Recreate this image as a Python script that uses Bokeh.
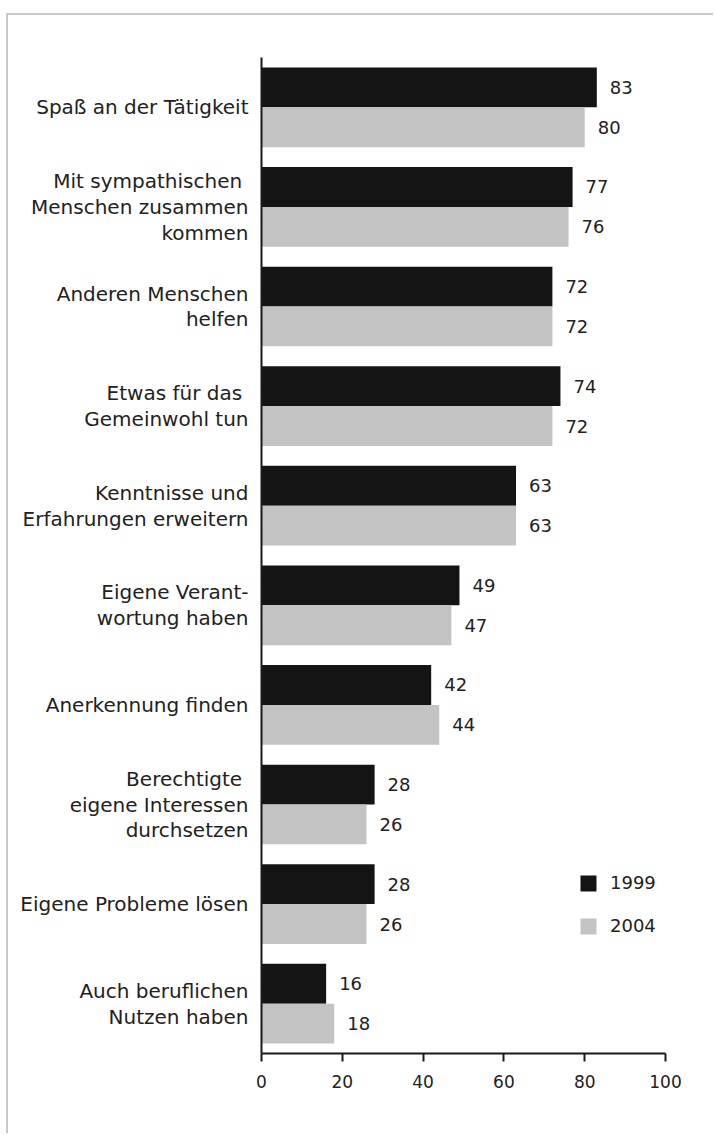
from bokeh.plotting import figure
from bokeh.models import FactorRange, Range1d, Legend, LegendItem, FixedTicker, ColumnDataSource
from bokeh.transform import dodge
from bokeh.core.properties import value
from bokeh.embed import file_html
from bokeh.resources import INLINE

categories = [
    "Spaß an der Tätigkeit",
    "Mit sympathischen \nMenschen zusammen\nkommen",
    "Anderen Menschen\nhelfen",
    "Etwas für das \nGemeinwohl tun",
    "Kenntnisse und\nErfahrungen erweitern",
    "Eigene Verant-\nwortung haben",
    "Anerkennung finden",
    "Berechtigte \neigene Interessen\ndurchsetzen",
    "Eigene Probleme lösen",
    "Auch beruflichen\nNutzen haben",
]
values_1999 = [83, 77, 72, 74, 63, 49, 42, 28, 28, 16]
values_2004 = [80, 76, 72, 72, 63, 47, 44, 26, 26, 18]
x_ticks = [0, 20, 40, 60, 80, 100]
series_names = ["1999", "2004"]

FONT = "DejaVu Sans"
TXT = "#222222"
BLACK = "#141414"
GRAY = "#c3c3c3"

src = ColumnDataSource(dict(
    cat=categories,
    v1999=values_1999,
    v2004=values_2004,
    l1999=[str(v) for v in values_1999],
    l2004=[str(v) for v in values_2004],
))

p = figure(
    width=707, height=1120,
    y_range=FactorRange(*list(reversed(categories))),
    x_range=Range1d(0, 100),
    output_backend="svg", toolbar_location=None,
    min_border_left=253, min_border_right=50,
    min_border_top=42, min_border_bottom=82,
    styles={"margin-left": "6px", "margin-top": "13px",
            "border-left": "2px solid #c8c8c8", "border-top": "2px solid #c8c8c8"},
)
p.outline_line_color = None
p.grid.visible = False
p.background_fill_color = "white"
p.border_fill_color = "white"

r1 = p.hbar(y=dodge("cat", 0.2, range=p.y_range), right="v1999", left=0, height=0.4,
            source=src, fill_color=BLACK, line_color=None)
r2 = p.hbar(y=dodge("cat", -0.2, range=p.y_range), right="v2004", left=0, height=0.4,
            source=src, fill_color=GRAY, line_color=None)

p.text(x="v1999", y=dodge("cat", 0.2, range=p.y_range), text="l1999", source=src,
       x_offset=13, text_baseline="middle", text_align="left",
       text_font=value(FONT), text_font_size="18px", text_color=TXT)
p.text(x="v2004", y=dodge("cat", -0.2, range=p.y_range), text="l2004", source=src,
       x_offset=13, text_baseline="middle", text_align="left",
       text_font=value(FONT), text_font_size="18px", text_color=TXT)

# axes
xa = p.xaxis[0]
xa.ticker = FixedTicker(ticks=x_ticks)
xa.minor_tick_line_color = None
xa.major_tick_in = 0
xa.major_tick_out = 8
xa.major_tick_line_width = 2
xa.major_tick_line_color = "#1a1a1a"
xa.axis_line_width = 2
xa.axis_line_color = "#1a1a1a"
xa.major_label_text_font = FONT
xa.major_label_text_font_size = "17px"
xa.major_label_text_color = TXT
xa.major_label_standoff = 13

ya = p.yaxis[0]
ya.major_tick_line_color = None
ya.minor_tick_line_color = None
ya.axis_line_width = 2
ya.axis_line_color = "#1a1a1a"
ya.major_label_text_font = FONT
ya.major_label_text_font_size = "20px"
ya.major_label_text_color = TXT
ya.major_label_text_line_height = 1.07
ya.major_label_standoff = 7

legend = Legend(items=[LegendItem(label=series_names[0], renderers=[r1]),
                       LegendItem(label=series_names[1], renderers=[r2])],
                location=(317, 117))
legend.glyph_width = 20
legend.glyph_height = 20
legend.label_height = 20
legend.spacing = 22
legend.padding = 0
legend.margin = 0
legend.label_standoff = 12
legend.border_line_color = None
legend.background_fill_alpha = 0
legend.label_text_font = FONT
legend.label_text_font_size = "18px"
legend.label_text_color = TXT
p.add_layout(legend)

open("out.html", "w").write(file_html(p, INLINE))
